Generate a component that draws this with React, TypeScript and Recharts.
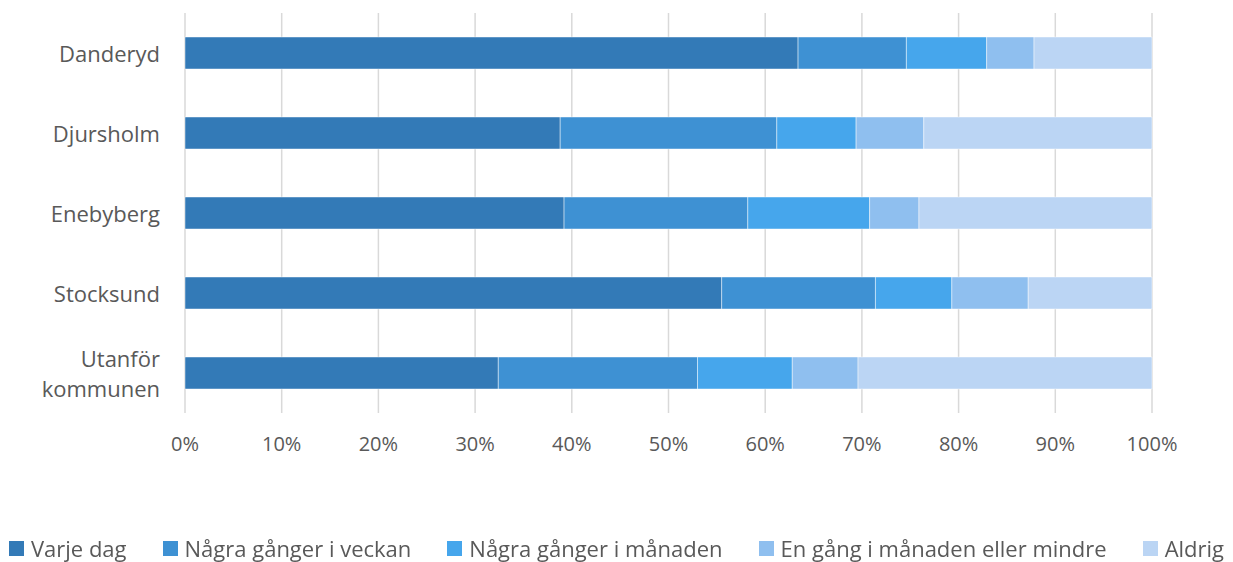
import React from "react";
import { BarChart, Bar, XAxis, YAxis, CartesianGrid, Legend } from "recharts";

const areas = ["Danderyd", "Djursholm", "Enebyberg", "Stocksund", "Utanför kommunen"];

const seriesNames = [
  "Varje dag",
  "Några gånger i veckan",
  "Några gånger i månaden",
  "En gång i månaden eller mindre",
  "Aldrig",
];

// share of answers per area, in percent
const varjeDag = [63.4, 38.8, 39.2, 55.5, 32.4];
const veckan = [11.2, 22.4, 19.0, 15.9, 20.6];
const manaden = [8.3, 8.2, 12.6, 7.9, 9.8];
const enGang = [4.9, 7.0, 5.1, 7.9, 6.8];
const aldrig = [12.2, 23.6, 24.1, 12.8, 30.4];

const xTicks = [0, 0.1, 0.2, 0.3, 0.4, 0.5, 0.6, 0.7, 0.8, 0.9, 1];

const colors = ["#337ab7", "#3e91d3", "#46a6ec", "#8fbfef", "#bbd5f4"];
const seriesKeys = ["varjeDag", "veckan", "manaden", "enGang", "aldrig"];
const seriesValues = [varjeDag, veckan, manaden, enGang, aldrig];

const data = areas.map((area, i) => {
  const row: Record<string, string | number> = { area };
  seriesKeys.forEach((k, s) => {
    row[k] = seriesValues[s][i];
  });
  return row;
});

const textColor = "#595959";

function AreaTick(props: any) {
  const { x, y, payload } = props;
  const words = String(payload.value).split(" ");
  const lineHeight = 30;
  const startDy = -((words.length - 1) * lineHeight) / 2;
  return (
    <text x={x - 17} y={y} textAnchor="end" fill={textColor} fontSize={22} dominantBaseline="central">
      {words.map((w, i) => (
        <tspan key={i} x={x - 17} dy={i === 0 ? startDy : lineHeight}>
          {w}
        </tspan>
      ))}
    </text>
  );
}

function renderLegend(props: any) {
  // keep the legend in series order, whatever order recharts hands it over
  const payload = [...(props.payload || [])].sort(
    (a: any, b: any) => seriesKeys.indexOf(a.dataKey) - seriesKeys.indexOf(b.dataKey)
  );
  return (
    <div
      style={{
        display: "flex",
        justifyContent: "center",
        alignItems: "center",
        gap: 36,
        height: 28,
        fontSize: 22,
        color: textColor,
        whiteSpace: "nowrap",
      }}
    >
      {payload.map((entry: any, i: number) => (
        <div key={i} style={{ display: "flex", alignItems: "center" }}>
          <span style={{ width: 15, height: 15, background: entry.color, marginRight: 7, display: "inline-block" }} />
          <span>{entry.value}</span>
        </div>
      ))}
    </div>
  );
}

export default function App() {
  return (
    <div style={{ position: "fixed", left: 0, top: 0, width: 1233, height: 562, background: "#fff", fontFamily: "'Open Sans', sans-serif" }}>
      <BarChart
        width={1233}
        height={562}
        data={data}
        layout="vertical"
        stackOffset="expand"
        barCategoryGap="30%"
        margin={{ top: 13, right: 81, left: 0, bottom: 0 }}
      >
        <CartesianGrid horizontal={false} stroke="#d9d9d9" strokeWidth={1.5} />
        <XAxis
          type="number"
          domain={[0, 1]}
          ticks={xTicks}
          tickFormatter={(v) => `${Math.round(v * 100)}%`}
          axisLine={false}
          tickLine={false}
          tickMargin={18}
          height={121}
          interval={0}
          tick={{ fill: textColor, fontSize: 20 }}
        />
        <YAxis type="category" dataKey="area" width={185} axisLine={false} tickLine={false} tick={<AreaTick />} />
        <Legend
          verticalAlign="bottom"
          content={renderLegend}
          wrapperStyle={{ left: 0, width: 1233, bottom: 0 }}
        />
        {seriesKeys.map((k, s) => (
          <Bar
            key={k}
            dataKey={k}
            name={seriesNames[s]}
            stackId="a"
            fill={colors[s]}
            stroke="#ffffff"
            strokeOpacity={0.45}
            strokeWidth={1}
            isAnimationActive={false}
          />
        ))}
      </BarChart>
    </div>
  );
}
